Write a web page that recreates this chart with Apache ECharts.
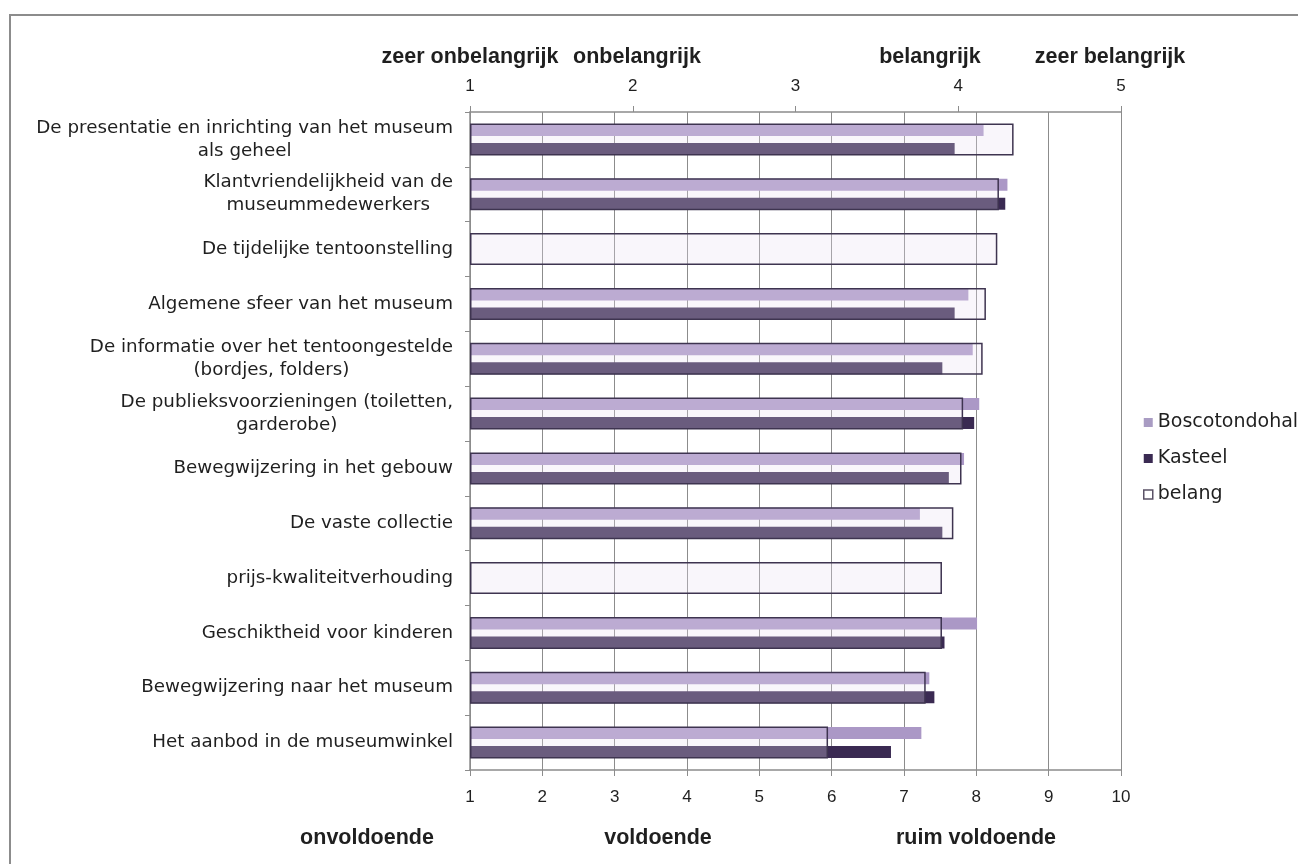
<!DOCTYPE html>
<html>
<head>
<meta charset="utf-8">
<script src="https://cdn.jsdelivr.net/npm/echarts@6/dist/echarts.min.js"></script>
<style>
  html, body { margin: 0; padding: 0; background: #ffffff; }
  #chart { width: 1298px; height: 864px; }
</style>
</head>
<body>
<div id="chart"></div>
<script>
// Aspects of the museum visit (top to bottom)
const categories = [
  'De presentatie en inrichting van het museum\nals geheel',
  'Klantvriendelijkheid van de\nmuseummedewerkers',
  'De tijdelijke tentoonstelling',
  'Algemene sfeer van het museum',
  'De informatie over het tentoongestelde\n(bordjes, folders)',
  'De publieksvoorzieningen (toiletten,\ngarderobe)',
  'Bewegwijzering in het gebouw',
  'De vaste collectie',
  'prijs-kwaliteitverhouding',
  'Geschiktheid voor kinderen',
  'Bewegwijzering naar het museum',
  'Het aanbod in de museumwinkel'
];

// Average grade (1-10) per location
const boscotondohal = [8.10, 8.43, null, 7.89, 7.95, 8.04, 7.83, 7.22, null, 8.01, 7.35, 7.24];
const kasteel       = [7.70, 8.40, null, 7.70, 7.53, 7.97, 7.62, 7.53, null, 7.56, 7.42, 6.82];

// Average importance (1-5)
const belang = [4.34, 4.25, 4.24, 4.17, 4.15, 4.03, 4.02, 3.97, 3.90, 3.90, 3.80, 3.20];

// Verbal anchors of both scales
const importanceTerms = ['zeer onbelangrijk', 'onbelangrijk', 'belangrijk', 'zeer belangrijk'];
const gradeTerms = ['onvoldoende', 'voldoende', 'ruim voldoende'];

const LABEL_FONT = 'DejaVu Sans';
const AXIS_FONT = 'Liberation Sans';
const GRID_GRAY = '#8c8c8c';
const TEXT = '#1f1f1f';

const chart = echarts.init(document.getElementById('chart'), null, { renderer: 'canvas' });

const termStyle = (text, x, y) => ({
  type: 'text',
  x: x,
  y: y,
  silent: true,
  style: {
    text: text,
    align: 'center',
    verticalAlign: 'middle',
    fontFamily: AXIS_FONT,
    fontWeight: 'bold',
    fontSize: 21.5,
    fill: TEXT
  }
});

chart.setOption({
  animation: false,
  backgroundColor: '#ffffff',
  grid: {
    left: 470,
    right: 177,
    top: 112,
    bottom: 94,
    containLabel: false,
    outerBoundsMode: 'none'
  },
  legend: {
    orient: 'vertical',
    left: 1138,
    top: 408,
    itemWidth: 9,
    itemHeight: 9,
    itemGap: 17,
    selectedMode: false,
    textStyle: { fontFamily: LABEL_FONT, fontSize: 19, color: TEXT },
    data: [
      { name: 'Boscotondohal', icon: 'rect', itemStyle: { color: '#a99cc3', borderWidth: 0 } },
      { name: 'Kasteel', icon: 'rect', itemStyle: { color: '#3a2a52', borderWidth: 0 } },
      { name: 'belang', icon: 'rect', itemStyle: { color: '#ffffff', borderColor: '#5a5266', borderWidth: 1.5 } }
    ]
  },
  xAxis: [
    {
      type: 'value',
      position: 'bottom',
      min: 1,
      max: 10,
      interval: 1,
      startValue: 1,
      axisLine: { show: true, lineStyle: { color: GRID_GRAY, width: 1.5 } },
      axisTick: { show: true, length: 6, lineStyle: { color: GRID_GRAY } },
      splitLine: { show: true, lineStyle: { color: GRID_GRAY, width: 1 } },
      axisLabel: { margin: 19, fontFamily: AXIS_FONT, fontSize: 17, color: TEXT }
    },
    {
      type: 'value',
      position: 'top',
      min: 1,
      max: 5,
      interval: 1,
      startValue: 1,
      axisLine: { show: true, lineStyle: { color: GRID_GRAY, width: 1.5 } },
      axisTick: { show: true, length: 6, lineStyle: { color: GRID_GRAY } },
      splitLine: { show: false },
      axisLabel: { margin: 17, fontFamily: AXIS_FONT, fontSize: 17, color: TEXT }
    }
  ],
  yAxis: [
    {
      type: 'category',
      inverse: true,
      data: categories,
      axisLine: { show: true, lineStyle: { color: GRID_GRAY, width: 1.5 } },
      axisTick: { show: true, length: 5, lineStyle: { color: GRID_GRAY } },
      splitLine: { show: false },
      axisLabel: {
        margin: 17,
        align: 'right',
        formatter: (v) => v.split('\n').map((line) => '{c|' + line + '}').join('\n'),
        rich: {
          c: { align: 'center', fontFamily: LABEL_FONT, fontSize: 18.3, lineHeight: 23, color: TEXT }
        }
      }
    },
    {
      type: 'category',
      inverse: true,
      data: categories,
      show: false
    }
  ],
  series: [
    {
      name: 'Boscotondohal',
      type: 'bar',
      xAxisIndex: 0,
      yAxisIndex: 0,
      data: boscotondohal,
      barWidth: 12,
      barGap: '58%',
      itemStyle: { color: '#ab98c6' },
      z: 2
    },
    {
      name: 'Kasteel',
      type: 'bar',
      xAxisIndex: 0,
      yAxisIndex: 0,
      data: kasteel,
      barWidth: 12,
      barGap: '58%',
      itemStyle: { color: '#3a2a52' },
      z: 2
    },
    {
      name: 'belang',
      type: 'bar',
      xAxisIndex: 1,
      yAxisIndex: 1,
      data: belang,
      barWidth: 32,
      itemStyle: { color: 'rgba(232,224,242,0.28)', borderColor: '#3e3450', borderWidth: 1.5 },
      z: 3
    }
  ],
  graphic: [
    {
      type: 'rect',
      silent: true,
      z: -10,
      shape: { x: 10, y: 15, width: 1400, height: 1000 },
      style: { fill: 'none', stroke: '#8c8c8c', lineWidth: 2 }
    },
    termStyle(importanceTerms[0], 470, 57),
    termStyle(importanceTerms[1], 637, 57),
    termStyle(importanceTerms[2], 930, 57),
    termStyle(importanceTerms[3], 1110, 57),
    termStyle(gradeTerms[0], 367, 838),
    termStyle(gradeTerms[1], 658, 838),
    termStyle(gradeTerms[2], 976, 838)
  ]
});
</script>
</body>
</html>
